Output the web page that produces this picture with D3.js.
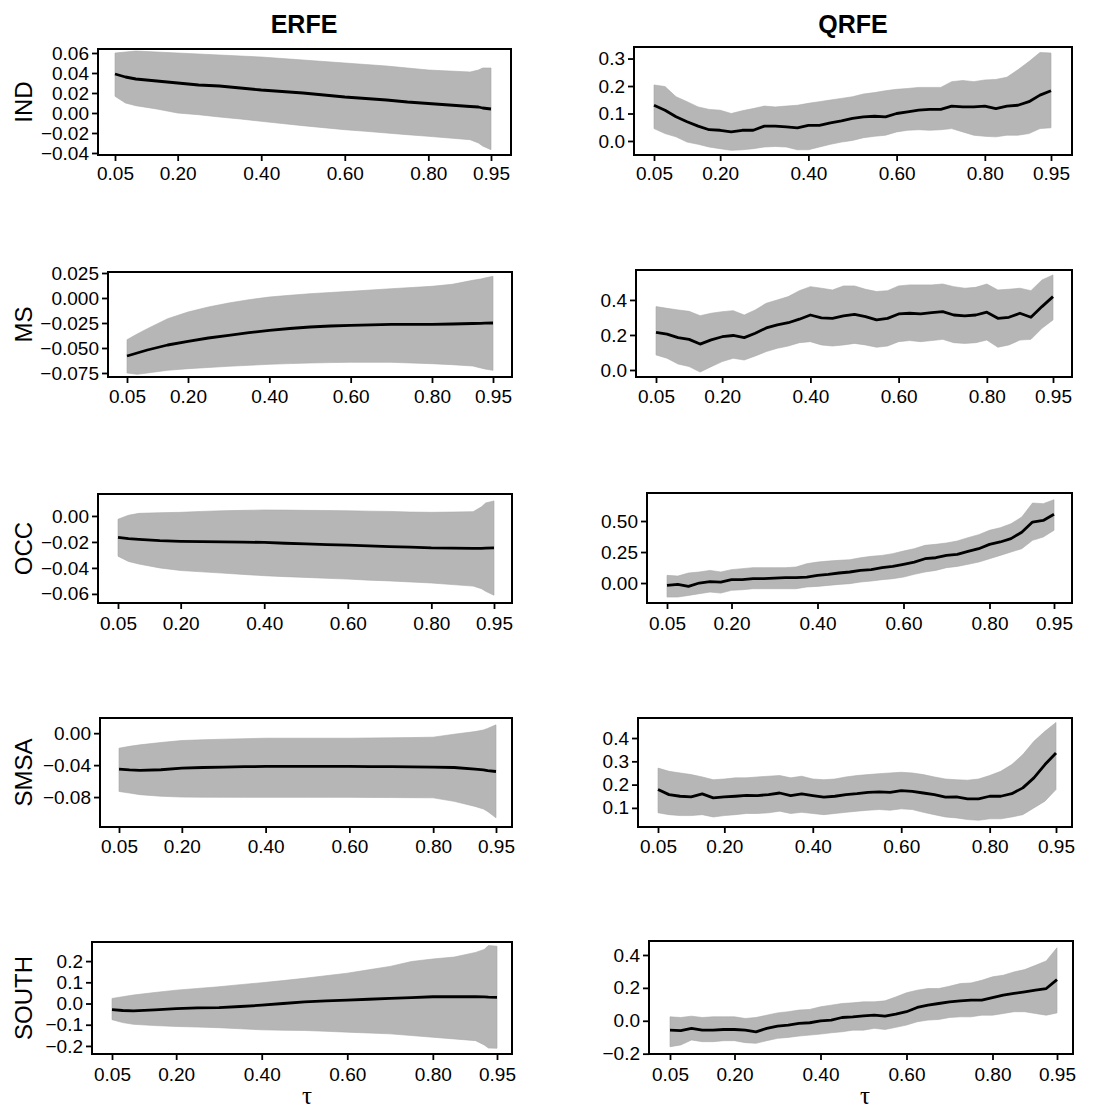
<!DOCTYPE html>
<html><head><meta charset="utf-8">
<script src="https://cdn.jsdelivr.net/npm/d3@7/dist/d3.min.js"></script>
<style>body{margin:0;background:#fff}</style>
</head><body><div id="chart"></div>
<script>
// ---------------- DATA ----------------
const columnTitles = ["ERFE", "QRFE"];
const variables = ["IND", "MS", "OCC", "SMSA", "SOUTH"];
const xTickValues = [0.05, 0.20, 0.40, 0.60, 0.80, 0.95];

const tauE = [0.05,0.075,0.10,0.15,0.20,0.25,0.30,0.35,0.40,0.45,0.50,0.55,0.60,0.65,0.70,0.75,0.80,0.85,0.90,0.92,0.93,0.95];
const tauQ = [0.05,0.075,0.1,0.125,0.15,0.175,0.2,0.225,0.25,0.275,0.3,0.325,0.35,0.375,0.4,0.425,0.45,0.475,0.5,0.525,0.55,0.575,0.6,0.625,0.65,0.675,0.7,0.725,0.75,0.775,0.8,0.825,0.85,0.875,0.9,0.925,0.95];

// ERFE
const erfeIND_est = [0.039,0.036,0.034,0.032,0.030,0.028,0.027,0.025,0.023,0.0215,0.020,0.018,0.016,0.0145,0.013,0.011,0.0095,0.008,0.0065,0.006,0.005,0.004];
const erfeIND_hi  = [0.060,0.061,0.062,0.061,0.060,0.059,0.058,0.057,0.056,0.0545,0.053,0.0515,0.050,0.0485,0.047,0.045,0.043,0.042,0.041,0.043,0.045,0.045];
const erfeIND_lo  = [0.0167,0.010,0.0073,0.004,0.0,-0.0017,-0.004,-0.006,-0.0083,-0.0105,-0.0127,-0.0147,-0.0167,-0.0183,-0.020,-0.0217,-0.0233,-0.025,-0.0267,-0.030,-0.033,-0.0367];

const erfeMS_est = [-0.058,-0.055,-0.052,-0.047,-0.0433,-0.040,-0.0373,-0.0347,-0.0323,-0.0305,-0.029,-0.028,-0.0273,-0.0268,-0.0263,-0.0263,-0.0263,-0.026,-0.0255,-0.0253,-0.0252,-0.025];
const erfeMS_hi  = [-0.0417,-0.036,-0.0307,-0.0207,-0.014,-0.009,-0.005,-0.0017,0.001,0.0027,0.0043,0.0055,0.0067,0.008,0.0093,0.0105,0.0117,0.0137,0.0177,0.019,0.020,0.0217];
const erfeMS_lo  = [-0.075,-0.0763,-0.075,-0.0723,-0.0707,-0.0695,-0.0683,-0.0673,-0.0663,-0.0656,-0.065,-0.0646,-0.0643,-0.0643,-0.0643,-0.065,-0.0657,-0.0667,-0.068,-0.070,-0.071,-0.0723];

const erfeOCC_est = [-0.0165,-0.0175,-0.018,-0.019,-0.0195,-0.0198,-0.020,-0.0202,-0.0203,-0.021,-0.0215,-0.022,-0.0225,-0.023,-0.0236,-0.024,-0.0246,-0.0248,-0.025,-0.025,-0.0248,-0.0246];
const erfeOCC_hi  = [-0.0025,0.0005,0.002,0.0025,0.0028,0.0035,0.004,0.0043,0.0046,0.0045,0.0043,0.0042,0.004,0.0037,0.0035,0.003,0.0028,0.003,0.0033,0.007,0.010,0.0116];
const erfeOCC_lo  = [-0.031,-0.035,-0.037,-0.040,-0.042,-0.043,-0.044,-0.045,-0.046,-0.0467,-0.0473,-0.048,-0.0486,-0.0494,-0.050,-0.0508,-0.0516,-0.0528,-0.054,-0.056,-0.058,-0.061];

const erfeSMSA_est = [-0.045,-0.046,-0.0467,-0.0458,-0.0438,-0.043,-0.0425,-0.042,-0.0417,-0.0417,-0.0417,-0.0417,-0.0417,-0.0418,-0.042,-0.0422,-0.0425,-0.043,-0.045,-0.046,-0.047,-0.048];
const erfeSMSA_hi  = [-0.0188,-0.0165,-0.0146,-0.0117,-0.0092,-0.0083,-0.0075,-0.0069,-0.0063,-0.0063,-0.0063,-0.0063,-0.0063,-0.006,-0.0058,-0.0055,-0.005,-0.0013,0.002,0.004,0.006,0.0104];
const erfeSMSA_lo  = [-0.073,-0.075,-0.077,-0.079,-0.080,-0.0802,-0.0803,-0.0804,-0.0804,-0.0804,-0.0804,-0.0804,-0.0804,-0.0805,-0.0806,-0.0808,-0.081,-0.0854,-0.0917,-0.095,-0.098,-0.106];

const erfeSOUTH_est = [-0.0286,-0.033,-0.035,-0.030,-0.024,-0.021,-0.019,-0.014,-0.008,0.000,0.008,0.012,0.016,0.020,0.024,0.028,0.032,0.032,0.032,0.031,0.030,0.029];
const erfeSOUTH_hi  = [0.024,0.032,0.040,0.052,0.063,0.071,0.079,0.089,0.098,0.108,0.119,0.131,0.143,0.159,0.175,0.198,0.210,0.219,0.241,0.255,0.273,0.270];
const erfeSOUTH_lo  = [-0.076,-0.090,-0.098,-0.104,-0.108,-0.111,-0.114,-0.119,-0.124,-0.126,-0.127,-0.131,-0.135,-0.139,-0.143,-0.151,-0.159,-0.167,-0.175,-0.195,-0.210,-0.211];

// QRFE
const qrfeIND_est = [0.130,0.112,0.088,0.070,0.054,0.041,0.039,0.033,0.039,0.039,0.054,0.054,0.051,0.048,0.057,0.057,0.066,0.073,0.082,0.088,0.090,0.088,0.100,0.106,0.112,0.115,0.115,0.127,0.124,0.124,0.127,0.118,0.127,0.130,0.143,0.167,0.183];
const qrfeIND_hi  = [0.204,0.198,0.161,0.143,0.124,0.115,0.112,0.100,0.110,0.118,0.127,0.124,0.127,0.130,0.137,0.143,0.149,0.155,0.161,0.171,0.176,0.183,0.188,0.191,0.195,0.195,0.195,0.216,0.220,0.216,0.222,0.224,0.232,0.259,0.289,0.322,0.320];
const qrfeIND_lo  = [0.045,0.027,0.015,-0.004,-0.012,-0.022,-0.028,-0.034,-0.032,-0.028,-0.022,-0.020,-0.022,-0.032,-0.032,-0.022,-0.012,-0.004,0.002,0.012,0.017,0.021,0.033,0.039,0.041,0.039,0.041,0.045,0.033,0.021,0.017,0.015,0.021,0.021,0.027,0.045,0.048];

const qrfeMS_est = [0.215,0.205,0.185,0.175,0.148,0.172,0.190,0.197,0.185,0.210,0.240,0.258,0.270,0.290,0.314,0.298,0.295,0.309,0.318,0.305,0.286,0.295,0.320,0.324,0.320,0.328,0.333,0.314,0.309,0.314,0.330,0.295,0.301,0.324,0.301,0.362,0.419];
const qrfeMS_hi  = [0.362,0.352,0.343,0.335,0.310,0.324,0.333,0.339,0.314,0.343,0.381,0.400,0.419,0.453,0.476,0.467,0.457,0.480,0.480,0.461,0.448,0.453,0.480,0.486,0.486,0.486,0.491,0.476,0.467,0.472,0.491,0.457,0.461,0.467,0.453,0.514,0.543];
const qrfeMS_lo  = [0.086,0.067,0.034,0.020,-0.012,0.019,0.048,0.067,0.057,0.080,0.105,0.124,0.137,0.156,0.162,0.143,0.137,0.143,0.152,0.143,0.130,0.137,0.162,0.168,0.162,0.168,0.175,0.156,0.152,0.156,0.171,0.130,0.143,0.171,0.175,0.238,0.286];

const qrfeOCC_est = [-0.019,-0.011,-0.027,0.000,0.012,0.008,0.027,0.027,0.035,0.035,0.040,0.043,0.043,0.048,0.062,0.070,0.081,0.089,0.102,0.108,0.124,0.134,0.151,0.169,0.196,0.204,0.223,0.231,0.255,0.277,0.312,0.331,0.358,0.410,0.492,0.505,0.554];
const qrfeOCC_hi  = [0.062,0.056,0.081,0.089,0.102,0.089,0.108,0.116,0.124,0.124,0.124,0.124,0.129,0.156,0.169,0.177,0.183,0.188,0.204,0.215,0.223,0.237,0.258,0.277,0.304,0.312,0.323,0.339,0.366,0.390,0.425,0.446,0.478,0.532,0.645,0.640,0.672];
const qrfeOCC_lo  = [-0.113,-0.113,-0.100,-0.086,-0.073,-0.081,-0.059,-0.054,-0.046,-0.046,-0.046,-0.046,-0.046,-0.032,-0.027,-0.019,-0.011,-0.005,0.008,0.016,0.027,0.035,0.048,0.070,0.089,0.102,0.124,0.134,0.151,0.169,0.196,0.223,0.250,0.277,0.344,0.371,0.425];

const qrfeSMSA_est = [0.179,0.157,0.150,0.147,0.160,0.143,0.147,0.150,0.154,0.153,0.157,0.164,0.153,0.160,0.153,0.146,0.150,0.157,0.161,0.167,0.169,0.167,0.174,0.171,0.164,0.157,0.146,0.147,0.139,0.139,0.150,0.150,0.161,0.186,0.229,0.286,0.336];
const qrfeSMSA_hi  = [0.271,0.257,0.250,0.243,0.233,0.221,0.224,0.229,0.229,0.233,0.236,0.239,0.229,0.236,0.224,0.221,0.224,0.233,0.239,0.243,0.247,0.250,0.253,0.250,0.243,0.233,0.224,0.221,0.219,0.224,0.239,0.257,0.286,0.329,0.386,0.429,0.467];
const qrfeSMSA_lo  = [0.079,0.071,0.067,0.067,0.071,0.061,0.067,0.071,0.076,0.076,0.079,0.086,0.076,0.081,0.076,0.071,0.076,0.081,0.086,0.090,0.093,0.090,0.096,0.093,0.081,0.071,0.061,0.057,0.050,0.047,0.053,0.053,0.061,0.071,0.100,0.129,0.179];

const qrfeSOUTH_est = [-0.057,-0.060,-0.046,-0.057,-0.057,-0.053,-0.053,-0.057,-0.067,-0.046,-0.032,-0.026,-0.016,-0.012,0.000,0.004,0.020,0.024,0.030,0.034,0.028,0.040,0.055,0.081,0.095,0.105,0.115,0.121,0.125,0.125,0.141,0.156,0.166,0.176,0.186,0.196,0.250];
const qrfeSOUTH_hi  = [0.024,0.020,0.028,0.020,0.024,0.024,0.024,0.014,0.020,0.034,0.048,0.055,0.065,0.069,0.085,0.095,0.105,0.109,0.115,0.115,0.121,0.145,0.170,0.186,0.196,0.196,0.210,0.226,0.230,0.246,0.267,0.277,0.297,0.311,0.337,0.364,0.444];
const qrfeSOUTH_lo  = [-0.158,-0.147,-0.117,-0.127,-0.127,-0.121,-0.121,-0.133,-0.137,-0.121,-0.107,-0.101,-0.093,-0.087,-0.081,-0.073,-0.067,-0.057,-0.057,-0.046,-0.053,-0.040,-0.026,-0.006,0.004,0.008,0.020,0.024,0.024,0.034,0.034,0.044,0.055,0.055,0.044,0.034,0.048];

// y tick values per panel [row]
const yTicksERFE = [[-0.04,-0.02,0,0.02,0.04,0.06],[-0.075,-0.05,-0.025,0,0.025],[-0.06,-0.04,-0.02,0],[-0.08,-0.04,0],[-0.2,-0.1,0,0.1,0.2]];
const yTicksQRFE = [[0,0.1,0.2,0.3],[0,0.2,0.4],[0,0.25,0.5],[0.1,0.2,0.3,0.4],[-0.2,0,0.2,0.4]];
const yFmtERFE = [".2f",".3f",".2f",".2f",".1f"];
const yFmtQRFE = [".1f",".1f",".2f",".1f",".1f"];

// ---------------- LAYOUT ----------------
const layoutERFE = [
  {box:[98,49,511,155],  xr:[115,491], yd:[-0.042,0.064], lab:25},
  {box:[108,272,512,377],xr:[127,493], yd:[-0.079,0.026], lab:26},
  {box:[98,494,512,603], xr:[118,494], yd:[-0.067,0.0169], lab:27},
  {box:[100,718,512,827],xr:[119,496], yd:[-0.1175,0.019], lab:26},
  {box:[92,942,512,1054],xr:[112,497], yd:[-0.238,0.29], lab:27}
];
const layoutQRFE = [
  {box:[634,47,1072,155], xr:[654,1051], yd:[-0.051,0.342], lab:25},
  {box:[636,270,1072,377],xr:[656,1053], yd:[-0.04,0.571], lab:26},
  {box:[647,493,1072,603],xr:[667,1054], yd:[-0.161,0.726], lab:27},
  {box:[638,718,1072,827],xr:[658,1056], yd:[0.018,0.486], lab:26},
  {box:[649,941,1073,1054],xr:[670,1057], yd:[-0.202,0.485], lab:27}
];

const erfeData = [
  [erfeIND_est, erfeIND_lo, erfeIND_hi],
  [erfeMS_est, erfeMS_lo, erfeMS_hi],
  [erfeOCC_est, erfeOCC_lo, erfeOCC_hi],
  [erfeSMSA_est, erfeSMSA_lo, erfeSMSA_hi],
  [erfeSOUTH_est, erfeSOUTH_lo, erfeSOUTH_hi]
];
const qrfeData = [
  [qrfeIND_est, qrfeIND_lo, qrfeIND_hi],
  [qrfeMS_est, qrfeMS_lo, qrfeMS_hi],
  [qrfeOCC_est, qrfeOCC_lo, qrfeOCC_hi],
  [qrfeSMSA_est, qrfeSMSA_lo, qrfeSMSA_hi],
  [qrfeSOUTH_est, qrfeSOUTH_lo, qrfeSOUTH_hi]
];

const W = 1120, H = 1109;
const FONT = "'Liberation Sans', Arial, Helvetica, sans-serif";
const svg = d3.select("#chart").append("svg").attr("width", W).attr("height", H)
  .style("background", "#fff");
svg.append("rect").attr("width", W).attr("height", H).attr("fill", "#fff");

function drawPanel(tau, series, lay, yTicks, yFmt) {
  const [est, lo, hi] = series;
  const [L, T, R, B] = lay.box;
  const x = d3.scaleLinear().domain([0.05, 0.95]).range(lay.xr);
  const y = d3.scaleLinear().domain(lay.yd).range([B, T]);
  const rows = tau.map((t, i) => ({t, e: est[i], l: lo[i], h: hi[i]}));
  const g = svg.append("g");
  g.append("path").datum(rows)
    .attr("d", d3.area().x(d => x(d.t)).y0(d => y(d.l)).y1(d => y(d.h)))
    .attr("fill", "#b6b6b6").attr("stroke", "#aaaaaa").attr("stroke-width", 0.6);
  g.append("path").datum(rows)
    .attr("d", d3.line().x(d => x(d.t)).y(d => y(d.e)))
    .attr("fill", "none").attr("stroke", "#000").attr("stroke-width", 2.8)
    .attr("stroke-linejoin", "round");
  g.append("rect").attr("x", L).attr("y", T).attr("width", R - L).attr("height", B - T)
    .attr("fill", "none").attr("stroke", "#000").attr("stroke-width", 2);

  const ax = g.append("g").attr("transform", `translate(0,${B})`)
    .call(d3.axisBottom(x).tickValues(xTickValues).tickFormat(d3.format(".2f"))
      .tickSize(6).tickPadding(lay.lab - 6 - 13.5));
  const ay = g.append("g").attr("transform", `translate(${L},0)`)
    .call(d3.axisLeft(y).tickValues(yTicks).tickFormat(d3.format(yFmt))
      .tickSize(6).tickPadding(3));
  [ax, ay].forEach(a => {
    a.select(".domain").remove();
    a.selectAll("line").attr("stroke", "#000").attr("stroke-width", 1.8);
    a.selectAll("text").attr("fill", "#000").style("font-family", FONT).style("font-size", "19px");
  });
}

for (let r = 0; r < 5; r++) {
  drawPanel(tauE, erfeData[r], layoutERFE[r], yTicksERFE[r], yFmtERFE[r]);
  drawPanel(tauQ, qrfeData[r], layoutQRFE[r], yTicksQRFE[r], yFmtQRFE[r]);
  const b = layoutERFE[r].box;
  const cy = (b[1] + b[3]) / 2;
  svg.append("text").attr("transform", `translate(23,${cy}) rotate(-90)`)
    .attr("text-anchor", "middle").attr("dominant-baseline", "central")
    .style("font-family", FONT).style("font-size", "24px").text(variables[r]);
}

svg.append("text").attr("x", 304).attr("y", 33).attr("text-anchor", "middle")
  .style("font-family", FONT).style("font-size", "25px").style("font-weight", "bold").text(columnTitles[0]);
svg.append("text").attr("x", 853).attr("y", 33).attr("text-anchor", "middle")
  .style("font-family", FONT).style("font-size", "25px").style("font-weight", "bold").text(columnTitles[1]);

svg.append("text").attr("x", 307).attr("y", 1104).attr("text-anchor", "middle")
  .style("font-family", "'Liberation Serif', 'DejaVu Serif', serif").style("font-size", "25px").text("τ");
svg.append("text").attr("x", 865).attr("y", 1104).attr("text-anchor", "middle")
  .style("font-family", "'Liberation Serif', 'DejaVu Serif', serif").style("font-size", "25px").text("τ");
</script></body></html>
